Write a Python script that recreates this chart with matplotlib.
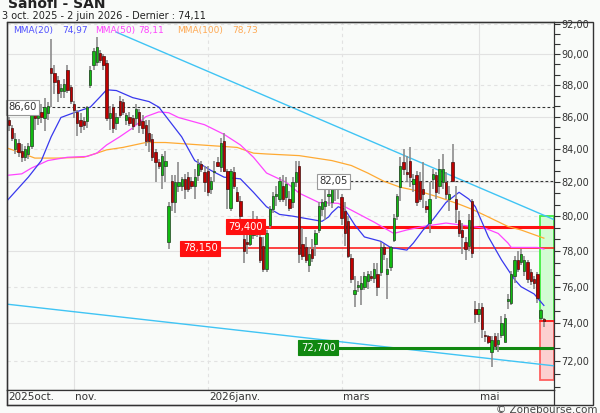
import numpy as np
import pandas as pd
import matplotlib.pyplot as plt
from matplotlib.patches import Rectangle
from matplotlib.ticker import FixedLocator, NullFormatter, FuncFormatter

W, H = 600, 413

# trading days shown on the chart (Euronext holidays removed)
holidays = pd.to_datetime(['2025-12-25', '2025-12-26', '2026-01-01',
                           '2026-04-03', '2026-04-06', '2026-05-01'])
days = pd.bdate_range('2025-10-03', '2026-06-02')
days = days[~days.isin(holidays)]

opens = [86.2, 85.8, 85.3, 84.0, 84.4, 83.9, 83.5, 83.7, 84.2, 86.4,
         85.9, 86.3, 85.9, 86.2, 89.1, 88.8, 88.3, 87.6, 87.6, 89.0,
         87.9, 86.8, 86.3, 85.8, 85.7, 85.7, 88.0, 89.3, 89.5, 90.1,
         89.9, 89.4, 85.9, 86.6, 85.6, 87.0, 86.9, 85.8, 86.0, 85.9,
         85.9, 86.3, 85.7, 85.5, 85.0, 84.6, 83.8, 83.2, 82.4, 83.0,
         78.5, 82.1, 80.8, 81.8, 81.8, 82.2, 82.3, 82.1, 81.8, 82.4,
         83.1, 82.6, 82.7, 81.6, 82.6, 83.2, 82.9, 84.5, 82.7, 80.5,
         82.6, 81.4, 80.9, 78.7, 78.5, 78.4, 78.9, 79.2, 78.8, 78.3,
         77.0, 79.5, 80.4, 81.2, 81.0, 81.8, 81.1, 81.0, 80.8, 82.0,
         83.0, 78.4, 78.2, 77.2, 78.1, 78.4, 79.2, 80.4, 80.6, 81.2,
         80.8, 81.7, 82.0, 81.1, 80.3, 79.7, 77.6, 75.6, 76.0, 75.9,
         76.0, 76.3, 76.6, 76.5, 76.7, 76.8, 78.2, 76.7, 77.1, 78.6,
         80.0, 81.7, 83.2, 82.6, 83.3, 81.9, 82.4, 82.1, 81.6, 80.6,
         79.6, 82.2, 82.4, 81.8, 82.0, 82.0, 81.0, 83.2, 81.0, 79.8,
         79.2, 78.5, 78.3, 80.9, 74.8, 74.5, 74.9, 73.4, 73.3, 72.5,
         73.3, 72.9, 73.4, 73.0, 75.2, 75.1, 76.6, 77.5, 77.4, 76.9,
         77.4, 76.8, 76.4, 76.7, 74.3, 74.25]
highs = [86.5, 86.0, 85.5, 85.0, 84.6, 84.3, 84.2, 84.4, 86.6, 86.8,
         86.6, 86.8, 87.2, 86.9, 91.0, 89.3, 88.6, 88.1, 88.4, 89.3,
         88.0, 87.0, 86.4, 86.2, 86.0, 86.7, 89.2, 90.4, 91.1, 90.3,
         90.0, 89.6, 86.7, 86.8, 86.2, 87.3, 87.1, 86.2, 86.3, 86.1,
         86.8, 86.5, 86.1, 85.8, 85.8, 84.9, 84.0, 83.4, 83.7, 83.9,
         80.8, 82.4, 82.4, 83.2, 82.3, 82.5, 82.6, 82.3, 82.8, 83.4,
         83.3, 83.0, 83.0, 82.3, 83.3, 83.5, 84.7, 85.0, 82.8, 82.8,
         82.9, 81.7, 81.2, 79.2, 79.5, 79.6, 80.3, 80.0, 79.4, 78.8,
         79.2, 80.6, 81.4, 81.8, 82.3, 82.4, 82.3, 81.5, 82.3, 83.3,
         83.3, 79.3, 78.8, 78.2, 78.7, 79.2, 80.8, 81.0, 82.3, 81.6,
         82.3, 82.3, 82.3, 81.3, 80.8, 80.0, 77.8, 76.6, 76.3, 76.6,
         76.8, 76.9, 76.9, 77.3, 77.3, 78.5, 78.4, 77.6, 78.3, 80.1,
         81.3, 83.5, 84.0, 83.6, 84.1, 82.5, 82.7, 82.6, 83.2, 80.9,
         82.0, 82.8, 82.6, 83.4, 83.7, 82.6, 81.8, 84.3, 81.8, 80.3,
         79.6, 78.8, 80.1, 81.0, 75.2, 75.1, 75.1, 73.6, 73.4, 73.3,
         73.5, 73.5, 74.4, 74.5, 75.6, 76.9, 77.7, 78.0, 78.1, 77.7,
         77.5, 77.0, 76.6, 76.8, 74.8, 74.3]
lows = [85.5, 85.1, 84.5, 83.7, 83.5, 83.2, 83.3, 83.4, 84.0, 85.2,
        85.5, 85.6, 85.1, 85.8, 86.6, 87.4, 86.9, 87.2, 87.2, 87.5,
        86.8, 85.9, 84.8, 85.0, 85.2, 85.3, 87.8, 89.0, 89.2, 89.4,
        89.0, 85.7, 85.2, 85.0, 85.2, 85.9, 86.1, 85.5, 85.4, 85.2,
        85.5, 85.0, 84.9, 84.2, 83.8, 83.3, 82.0, 82.8, 81.6, 82.0,
        78.1, 80.3, 80.2, 81.4, 81.5, 81.0, 81.4, 81.6, 81.0, 82.1,
        82.6, 81.4, 81.2, 81.3, 82.0, 82.9, 82.6, 82.6, 80.4, 80.3,
        81.6, 80.8, 79.2, 77.3, 77.8, 78.3, 78.7, 78.8, 77.3, 76.8,
        76.8, 79.3, 80.2, 80.6, 80.8, 80.8, 80.6, 80.3, 80.5, 81.7,
        77.3, 77.5, 77.3, 76.8, 77.4, 77.7, 79.0, 80.0, 79.8, 80.6,
        80.5, 80.9, 81.0, 79.5, 78.3, 77.6, 76.2, 74.9, 75.7, 75.0,
        75.8, 75.9, 76.3, 76.2, 75.5, 76.6, 77.5, 75.3, 76.9, 78.5,
        79.8, 80.9, 82.4, 82.0, 81.7, 81.4, 80.6, 80.8, 80.5, 80.2,
        79.0, 81.6, 81.0, 81.3, 81.6, 81.0, 80.3, 82.0, 79.6, 78.8,
        77.8, 77.5, 78.0, 77.6, 74.0, 74.1, 73.2, 73.0, 72.9, 71.7,
        72.6, 72.5, 73.2, 73.0, 74.8, 75.0, 76.2, 76.8, 77.2, 76.6,
        76.2, 76.1, 75.9, 75.1, 74.2, 73.8]
closes = [85.8, 85.5, 84.7, 84.6, 83.8, 83.5, 84.0, 84.2, 86.4, 85.9,
          86.3, 86.0, 86.6, 86.7, 88.8, 88.2, 87.5, 87.8, 88.1, 87.7,
          87.0, 86.4, 85.6, 85.4, 85.5, 86.6, 89.0, 90.2, 90.5, 89.6,
          89.3, 85.9, 86.2, 85.3, 86.0, 86.1, 86.3, 86.1, 85.6, 85.4,
          86.5, 85.5, 85.3, 84.5, 84.5, 83.5, 83.2, 83.0, 83.6, 83.3,
          80.6, 80.8, 82.0, 82.0, 82.2, 81.6, 81.6, 81.8, 82.3, 83.1,
          82.8, 82.0, 81.4, 82.1, 82.7, 83.0, 84.4, 82.7, 81.6, 82.7,
          81.8, 80.9, 80.0, 78.0, 78.4, 79.2, 79.1, 79.6, 77.5, 77.0,
          79.0, 80.4, 81.2, 81.3, 82.1, 81.0, 81.9, 80.5, 82.0, 82.6,
          77.8, 77.7, 77.5, 77.8, 77.6, 79.0, 80.6, 80.8, 80.9, 81.3,
          81.7, 82.0, 81.7, 79.9, 79.0, 77.7, 76.4, 75.8, 76.1, 76.2,
          76.6, 76.7, 76.5, 77.0, 76.0, 78.2, 77.8, 77.0, 78.2, 79.9,
          81.2, 83.0, 82.8, 82.5, 82.3, 82.2, 80.8, 81.0, 81.3, 80.4,
          81.0, 82.5, 81.4, 82.8, 82.8, 81.3, 81.3, 82.1, 80.4, 79.0,
          78.8, 78.1, 79.8, 77.9, 74.5, 74.8, 73.7, 73.3, 73.0, 73.1,
          72.8, 73.1, 74.0, 74.3, 75.3, 76.7, 77.5, 77.0, 77.8, 77.5,
          76.4, 76.3, 76.2, 75.4, 74.7, 74.11]

# moving averages (trading-day number, value)
ma20_day = [0, 7, 11, 14, 17, 21, 26, 29, 31, 34, 39, 44, 47, 50, 54, 58,
            63, 67, 72, 76, 80, 84, 88, 94, 97, 99, 100, 102, 104, 107,
            110, 115, 118, 123, 125, 128, 131, 135, 139, 142, 144, 148,
            152, 156, 158, 162, 165]
ma20_val = [80.8, 82.3, 83.3, 84.75, 85.95, 86.25, 86.6, 87.25, 87.7, 87.65,
            87.2, 86.95, 86.6, 85.8, 84.75, 83.3, 82.7, 82.3, 82.2, 81.4,
            80.55, 80.1, 80.0, 79.8, 79.7, 79.95, 80.2, 80.55, 80.4, 79.5,
            78.8, 78.55, 78.2, 78.05, 78.45, 79.2, 79.8, 80.8, 81.4, 81.0,
            80.55, 78.8, 77.5, 76.4, 76.0, 75.6, 74.97]
ma50_day = [0, 5, 8, 13, 19, 25, 28, 31, 35, 39, 43, 47, 50, 53, 61, 67,
            72, 76, 80, 86, 90, 96, 102, 106, 113, 119, 123, 128, 135, 139,
            147, 151, 154, 155, 163, 165]
ma50_val = [82.4, 82.5, 82.85, 83.3, 83.5, 83.55, 83.75, 84.25, 84.75, 85.3,
            86.0, 86.3, 86.25, 85.95, 85.5, 84.9, 84.25, 83.5, 82.55, 82.0,
            81.35, 80.8, 80.75, 80.35, 79.65, 79.0, 79.2, 79.4, 79.6, 79.5,
            79.3, 79.0, 78.45, 78.2, 78.2, 78.11]
ma100_day = [0, 5, 9, 16, 24, 28, 31, 36, 43, 49, 60, 71, 76, 80, 90, 100,
             106, 111, 116, 121, 127, 133, 139, 143, 148, 154, 158, 165]
ma100_val = [84.1, 83.75, 83.45, 83.45, 83.5, 83.75, 83.95, 84.1, 84.4, 84.4,
             84.25, 84.1, 83.75, 83.7, 83.6, 83.3, 83.0, 82.55, 82.05, 81.7,
             81.45, 81.1, 80.7, 80.4, 79.95, 79.4, 79.2, 78.73]

# trend lines (day, value at both ends)
trend_top_day = [34, 168.1]
trend_top_val = [91.45, 79.8]
trend_low_day = [0, 168.1]
trend_low_val = [75.05, 71.75]

# horizontal levels
resist_1, resist_2 = 86.60, 82.05
pivot_1, pivot_2 = 79.40, 78.15
support = 72.70
target_up, target_down, last = 80.00, 71.00, 74.11

ma_last = {'MMA(20)': 74.97, 'MMA(50)': 78.11, 'MMA(100)': 78.73}

bg = '#f9fbf9'
txt = '#333333'
fs = 7

def fx(x):
    return x / W

def fy(y):
    return 1 - y / H

fig = plt.figure(figsize=(6, 4.13), dpi=100, facecolor=bg)
ax = fig.add_axes([fx(7), fy(390), (554 - 7) / W, (390 - 22) / H], facecolor=bg)

n = len(closes)
x = np.arange(n)
o = np.array(opens); c = np.array(closes)
hi = np.array(highs); lo = np.array(lows)

ax.set_yscale('log')
ax.set_ylim(70.50, 92.13)
ax.set_xlim(0.47, 168.1)

# grid
for v in range(72, 93, 2):
    ax.axhline(v, color='#e2e2e2', lw=0.8, ls='-' if v % 4 == 2 else (0, (3, 3)), zorder=0)
month_first = [i for i in range(1, n) if days[i].month != days[i - 1].month]
label_months = (11, 1, 3, 5)
for i in month_first:
    m = days[i].month
    if m in label_months:
        ax.axvline(i, color='#e2e2e2', lw=0.8, ls='-' if m in (11, 5) else (0, (3, 3)), zorder=0)

# target boxes
ax.add_patch(Rectangle((163.8, last), 4.3, target_up - last, fc='#d4fcd4', ec='#44ee44', lw=1.3, zorder=1))
ax.add_patch(Rectangle((163.8, target_down), 4.3, last - target_down, fc='#fcd0d0', ec='#ff6060', lw=1.3, zorder=1))

# trend lines
ax.plot(trend_top_day, trend_top_val, color='#40c4f4', lw=1.0, zorder=2)
ax.plot(trend_low_day, trend_low_val, color='#40c4f4', lw=1.0, zorder=2)

# levels
ax.plot([0.47, 168.1], [resist_1, resist_1], color='#333333', lw=0.8, ls=(0, (2.5, 2)), zorder=2)
ax.plot([105.6, 168.1], [resist_2, resist_2], color='#333333', lw=0.8, ls=(0, (2.5, 2)), zorder=2)
ax.plot([67.9, 168.1], [pivot_1, pivot_1], color='#ff1010', lw=2.2, zorder=2)
ax.plot([54.1, 168.1], [pivot_2, pivot_2], color='#ff1010', lw=1.1, zorder=2)
ax.plot([90.2, 168.1], [support, support], color='#118811', lw=2.2, zorder=2)
ax.plot([163.8, 168.1], [last, last], color='#ff1010', lw=1.1, zorder=2)

# moving averages
ax.plot(ma100_day, ma100_val, color='#ffaa33', lw=0.9, zorder=3)
ax.plot(ma50_day, ma50_val, color='#ff44ff', lw=0.9, zorder=3)
ax.plot(ma20_day, ma20_val, color='#3838ee', lw=0.9, zorder=3)

# candles
up = c >= o
ax.vlines(x, lo, hi, color='#8c8c8c', lw=1.2, zorder=4)
body_lo = np.minimum(o, c)
body_h = np.maximum(np.abs(c - o), 0.06)
ax.bar(x[up], body_h[up], bottom=body_lo[up], width=0.72, color='#11bb11',
       edgecolor='#1f3f1f', lw=0.5, zorder=5)
ax.bar(x[~up], body_h[~up], bottom=body_lo[~up], width=0.72, color='#c00000',
       edgecolor='#3f1010', lw=0.5, zorder=5)

# level labels
lab = dict(fontsize=7.2, va='center', ha='left', zorder=6)
ax.text(0.9, resist_1, '86,60', color=txt,
        bbox=dict(boxstyle='square,pad=0.25', fc='white', ec='#999999', lw=0.8), **lab)
ax.text(96.1, resist_2, '82,05', color=txt,
        bbox=dict(boxstyle='square,pad=0.25', fc='white', ec='#999999', lw=0.8), **lab)
ax.text(68.2, pivot_1, '79,400', color='white',
        bbox=dict(boxstyle='square,pad=0.25', fc='#ff1010', ec='#ff1010', lw=0.8), **lab)
ax.text(54.4, pivot_2, '78,150', color='white',
        bbox=dict(boxstyle='square,pad=0.25', fc='#ff1010', ec='#ff1010', lw=0.8), **lab)
ax.text(90.5, support, '72,700', color='white',
        bbox=dict(boxstyle='square,pad=0.25', fc='#118811', ec='#118811', lw=0.8), **lab)

# y axis on the right
ax.yaxis.tick_right()
ax.yaxis.set_major_locator(FixedLocator(list(range(72, 93, 2))))
ax.yaxis.set_major_formatter(FuncFormatter(lambda v, p: f'{v:.2f}'.replace('.', ',')))
ax.yaxis.set_minor_locator(FixedLocator([72 + k * 2 / 3 for k in range(-2, 31)]))
ax.yaxis.set_minor_formatter(NullFormatter())
ax.tick_params(axis='y', which='both', direction='out', length=4, width=0.8,
               colors=txt, labelsize=fs, pad=1)
ax.tick_params(axis='x', which='both', bottom=False, labelbottom=False)
for s in ax.spines.values():
    s.set_color('#333333')
    s.set_linewidth(0.9)

# date strip
ax2 = fig.add_axes([fx(7), fy(405), (554 - 7) / W, 15 / H], facecolor=bg)
ax2.set_xlim(0.47, 168.1)
ax2.set_ylim(0, 1)
ax2.set_xticks([]); ax2.set_yticks([])
for s in ax2.spines.values():
    s.set_color('#333333')
    s.set_linewidth(0.9)
month_names = {10: 'oct.', 11: 'nov.', 1: 'janv.', 3: 'mars', 5: 'mai'}
ax2.text(1.0, 0.5, '2025oct.', fontsize=7.5, color=txt, va='center', ha='left')
for i in month_first:
    m = days[i].month
    if m in label_months:
        name = month_names[m]
        if m == 1:
            name = f'{days[i].year}{name}'
        ax2.text(i + 0.4, 0.5, name, fontsize=7.5, color=txt, va='center', ha='left')

# outer frame
fig.patches.append(Rectangle((fx(7), fy(405)), (593 - 7) / W, (405 - 22) / H,
                             fill=False, ec='#333333', lw=1.0, transform=fig.transFigure))

# titles
fig.text(fx(8), fy(8), 'Sanofi - SAN', fontsize=10, fontweight='bold', color='#222222', va='baseline')
fig.text(fx(2), fy(16), '3 oct. 2025 - 2 juin 2026 - Dernier : 74,11', fontsize=7, color='#222222', va='center')

# legend
leg_x = [13, 62, 95, 138, 177, 232]
leg_cols = ['#5050ff', '#ff44ff', '#ffaa55']
k = 0
for (name, val), col in zip(ma_last.items(), leg_cols):
    fig.text(fx(leg_x[k]), fy(30), name, fontsize=6.5, color=col, va='center')
    fig.text(fx(leg_x[k + 1]), fy(30), f'{val:.2f}'.replace('.', ','), fontsize=6.5, color=col, va='center')
    k += 2

fig.text(fx(598), fy(415), '© Zonebourse.com', fontsize=7.5, color='#444444', ha='right', va='bottom')

fig.savefig('out.png', dpi=100, facecolor=bg)
